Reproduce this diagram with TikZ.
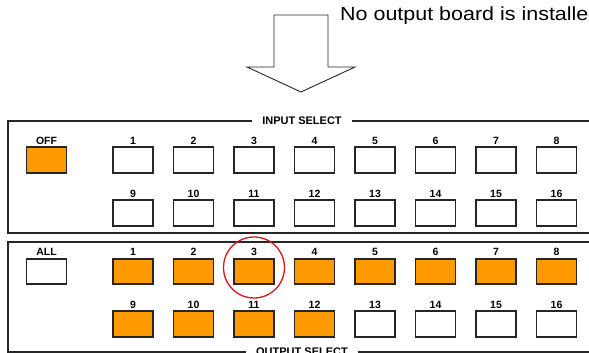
\documentclass[tikz,border=0pt]{standalone}
\usepackage{fontspec}
\setmainfont{Liberation Sans}
\newfontfamily\notefont{Liberation Sans}[FakeStretch=1.13]
\usepackage{xcolor}
\usetikzlibrary{positioning}
\definecolor{btnorange}{RGB}{255,153,0}
\definecolor{ringred}{RGB}{222,20,30}

\begin{document}
\begin{tikzpicture}[
  x=1pt, y=-1pt,
  btn/.style={draw=black!85, line width=1.7pt, fill=white, minimum width=40pt, minimum height=25.5pt, inner sep=0pt},
  lit/.style={btn, fill=btnorange},
  num/.style={font=\fontsize{10.5}{11}\selectfont\bfseries, inner sep=0pt},
  panel/.style={draw=black!85, line width=1.6pt},
  title/.style={font=\fontsize{11}{12}\selectfont\bfseries, fill=white, inner xsep=10pt, inner ysep=1pt},
]
\path[use as bounding box] (0,0) rectangle (589,353);
\clip (0,0) rectangle (589,353);

% note and block arrow
\node[anchor=base west, inner sep=0pt, font=\notefont\fontsize{19}{22}\selectfont] (note) at (340,21) {No output board is installe};
\draw[black!85, line width=0.9pt] (274,15) -- (328,15) -- (328,67) -- (355,67) -- (301,92) -- (247,67) -- (274,67) -- cycle;

% input panel
\draw[panel] (8,121) rectangle (600,233);
\node[title] (intitle) at (302,121) {INPUT SELECT};
\node[lit] (off) at (46.5,160) {};
\node[num, above=2pt of off] (loff) {OFF};
\foreach \i in {1,...,8} {
  \node[btn] (in\i) at ({133+60.5*(\i-1)},160) {};
  \node[num, above=2pt of in\i] (lin\i) {\i};
}
\foreach \i [evaluate=\i as \j using int(\i+8)] in {1,...,8} {
  \node[btn] (in\j) at ({133+60.5*(\i-1)},213) {};
  \node[num, above=2pt of in\j] (lin\j) {\j};
}

% output panel
\draw[panel] (8,242) rectangle (600,352);
\node[title] (outtitle) at (302,352) {OUTPUT SELECT};
\node[btn] (all) at (46.5,271.5) {};
\node[num, above=2pt of all] (lall) {ALL};
\foreach \i in {1,...,8} {
  \node[lit] (out\i) at ({133+60.5*(\i-1)},271.5) {};
  \node[num, above=2pt of out\i] (lout\i) {\i};
}
\foreach \i [evaluate=\i as \j using int(\i+8)] in {1,...,8} {
  \ifnum\j<13
    \node[lit] (out\j) at ({133+60.5*(\i-1)},324) {};
  \else
    \node[btn] (out\j) at ({133+60.5*(\i-1)},324) {};
  \fi
  \node[num, above=2pt of out\j] (lout\j) {\j};
}

% mark on output 3
\node[draw=ringred, circle, line width=1.3pt, minimum size=61pt, inner sep=0pt] (ring) at (254,267.5) {};
\end{tikzpicture}
\end{document}
